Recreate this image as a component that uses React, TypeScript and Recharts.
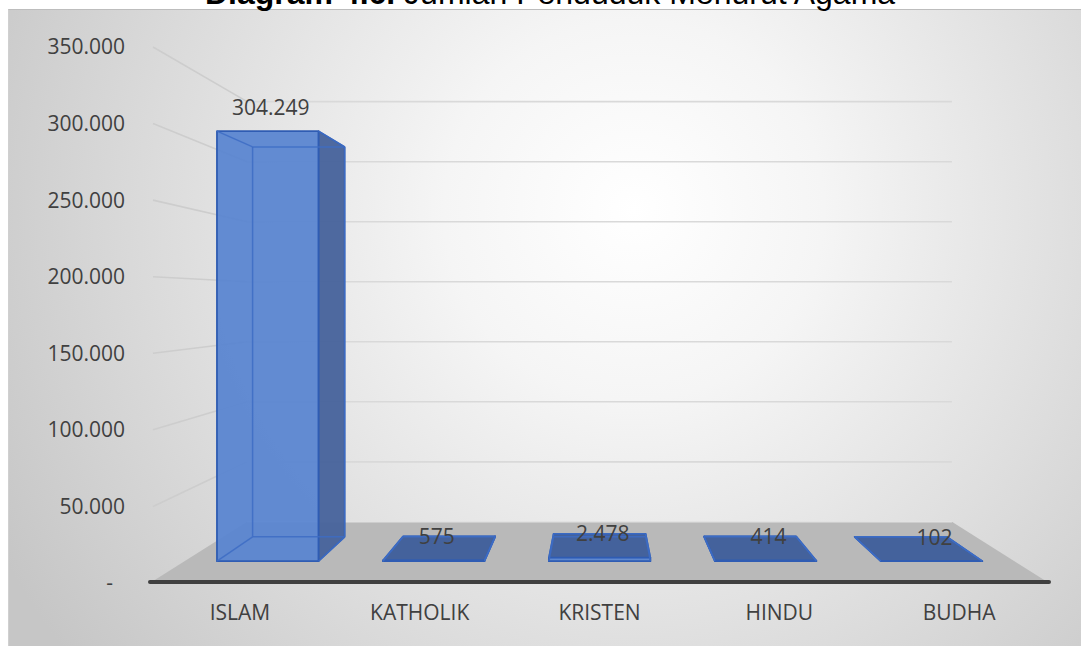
import React from "react";
import { BarChart, Bar, XAxis, YAxis, CartesianGrid, LabelList } from "recharts";

// ---------- data ----------
const categories = ["ISLAM", "KATHOLIK", "KRISTEN", "HINDU", "BUDHA"];
const populationValues = [304249, 575, 2478, 414, 102];
const yTicks = [0, 50000, 100000, 150000, 200000, 250000, 300000, 350000];
const titleBold = "Diagram 4.6.";
const titleRest = "Jumlah Penduduk Menurut Agama";

const data = categories.map((name, i) => ({ name, value: populationValues[i] }));

// ---------- layout ----------
const W = 1081;
const H = 646;
const MARGIN = { top: 47, right: 32, bottom: 0, left: 0 };
const Y_AXIS_W = 150;
const X_AXIS_H = 63;
const PLOT_LEFT = MARGIN.left + Y_AXIS_W;
const PLOT_RIGHT = W - MARGIN.right;
const PLOT_BOTTOM = H - MARGIN.bottom - X_AXIS_H;
const VPX = (PLOT_LEFT + PLOT_RIGHT) / 2;
const VPY = 300;
const S_WALL = 0.784;
const S_BAR_FRONT = 0.923;
const S_BAR_BACK = 0.837;

const FONT = "'Open Sans', 'Noto Sans', sans-serif";
const TEXT = "#404040";
const GRID = "#d9d9d9";
const SIDE_GRID = "#cdcdcd";

type P = [number, number];
const proj = (X: number, Y: number, s: number): P => [VPX + s * (X - VPX), VPY + s * (Y - VPY)];
const pts = (arr: P[]) => arr.map((p) => `${p[0].toFixed(2)},${p[1].toFixed(2)}`).join(" ");
const fmt = (v: number) => String(Math.round(v)).replace(/\B(?=(\d{3})+(?!\d))/g, ".");

const renderGridLine = (props: any) => {
  const { x1, x2, y1, index } = props;
  const backL = proj(x1, y1, S_WALL);
  const backR = proj(x2, y1, S_WALL);
  if (Math.abs(y1 - PLOT_BOTTOM) < 1) {
    return (
      <g key={`grid-${index}`}>
        <polygon points={pts([[x1, y1], [x2, y1], backR, backL])} fill="#b9b9b9" />
        <line x1={backL[0]} y1={backL[1]} x2={backR[0]} y2={backR[1]} stroke="#e2e2e2" strokeWidth={1.5} />
        <line x1={x1} y1={y1 - 1} x2={x2} y2={y1 - 1} stroke="#404040" strokeWidth={4} strokeLinecap="round" />
      </g>
    );
  }
  return (
    <g key={`grid-${index}`}>
      <line x1={x1 + 3} y1={y1} x2={backL[0]} y2={backL[1]} stroke={SIDE_GRID} strokeWidth={1.6} />
      <line x1={backL[0]} y1={backL[1]} x2={backR[0]} y2={backR[1]} stroke={GRID} strokeWidth={1.6} />
    </g>
  );
};

const Bar3D = (props: any) => {
  const { x, y, width, height } = props;
  if (x == null || y == null) return null;
  const X0 = x;
  const X1 = x + width;
  const T = y;
  const B = y + height;
  const f = (X: number, Y: number) => proj(X, Y, S_BAR_FRONT);
  const b = (X: number, Y: number) => proj(X, Y, S_BAR_BACK);
  const fTL = f(X0, T), fTR = f(X1, T), fBR = f(X1, B), fBL = f(X0, B);
  const bTL = b(X0, T), bTR = b(X1, T), bBR = b(X1, B), bBL = b(X0, B);
  let side: P[] | null = null;
  if (X1 < VPX) side = [fTR, bTR, bBR, fBR];
  else if (X0 > VPX) side = [fTL, bTL, bBL, fBL];
  const top: P[] | null = T > VPY ? [fTL, fTR, bTR, bTL] : null;
  const edges: [P, P][] = [
    [bTL, bTR], [bTR, bBR], [bBR, bBL], [bBL, bTL],
    [fTL, bTL], [fTR, bTR], [fBR, bBR], [fBL, bBL],
  ];
  const outline = "#2f5cb3";
  return (
    <g>
      {side && <polygon points={pts(side)} fill="#46629b" fillOpacity={0.95} stroke={outline} strokeWidth={1.5} strokeLinejoin="round" />}
      {top && <polygon points={pts(top)} fill="#44629c" stroke={outline} strokeWidth={1.5} strokeLinejoin="round" />}
      <polygon points={pts([fTL, fTR, fBR, fBL])} fill="#5985d0" fillOpacity={0.94} stroke={outline} strokeWidth={1.8} strokeLinejoin="round" />
      {edges.map(([a, c], i) => (
        <line key={i} x1={a[0]} y1={a[1]} x2={c[0]} y2={c[1]} stroke="#3d6cc4" strokeOpacity={0.85} strokeWidth={1.5} />
      ))}
    </g>
  );
};

const renderLabel = (props: any) => {
  const vb = props.viewBox && props.viewBox.x != null ? props.viewBox : props;
  const { x, y, width } = vb;
  const [cx, ty] = proj(x + width / 2, y, S_BAR_FRONT);
  return (
    <text x={cx + 3} y={ty - 24} dy="0.355em" textAnchor="middle" fill={TEXT} fontSize={21} fontFamily={FONT}>
      {fmt(Number(props.value))}
    </text>
  );
};

const YTick = (props: any) => {
  const { x, y, payload } = props;
  const v = Number(payload.value);
  return (
    <text x={v === 0 ? x - 12 : x} y={y} dy="0.355em" textAnchor="end" fill={TEXT} fontSize={21} fontFamily={FONT}>
      {v === 0 ? "-" : fmt(v)}
    </text>
  );
};

export default function App() {
  return (
    <div style={{ position: "absolute", left: 0, top: 0, width: W, height: H, overflow: "hidden", background: "#ffffff" }}>
      <div
        style={{
          position: "absolute",
          left: 8,
          top: 9,
          right: 0,
          bottom: 0,
          borderTop: "1px solid #bdbdbd",
          borderLeft: "1px solid #d0d0d0",
          background: "radial-gradient(circle at 625px 200px, #ffffff 0px, #f5f5f5 190px, #c6c6c6 720px)",
        }}
      />
      <div style={{ position: "absolute", left: 0, top: 0 }}>
        <BarChart width={W} height={H} data={data} margin={MARGIN} barCategoryGap="19.5%">
          <CartesianGrid vertical={false} horizontal={renderGridLine} />
          <XAxis
            dataKey="name"
            height={X_AXIS_H}
            axisLine={false}
            tickLine={false}
            tickSize={0}
            tickMargin={22}
            interval={0}
            tick={{ fill: TEXT, fontSize: 21, fontFamily: FONT }}
          />
          <YAxis
            width={Y_AXIS_W}
            domain={[0, 350000]}
            ticks={yTicks}
            interval={0}
            axisLine={false}
            tickLine={false}
            tickSize={0}
            tickMargin={25}
            tick={YTick}
          />
          <Bar dataKey="value" isAnimationActive={false} shape={Bar3D}>
            <LabelList dataKey="value" content={renderLabel} />
          </Bar>
        </BarChart>
      </div>
      <svg style={{ position: "absolute", left: 0, top: 0 }} width={W} height={20}>
        <text x={550} y={4} textAnchor="middle" fontFamily="'Liberation Sans', Arial, sans-serif" fontSize={32} fill="#000000">
          <tspan fontWeight="bold">{titleBold}</tspan>
          <tspan>{"\u00A0" + titleRest}</tspan>
        </text>
      </svg>
    </div>
  );
}
